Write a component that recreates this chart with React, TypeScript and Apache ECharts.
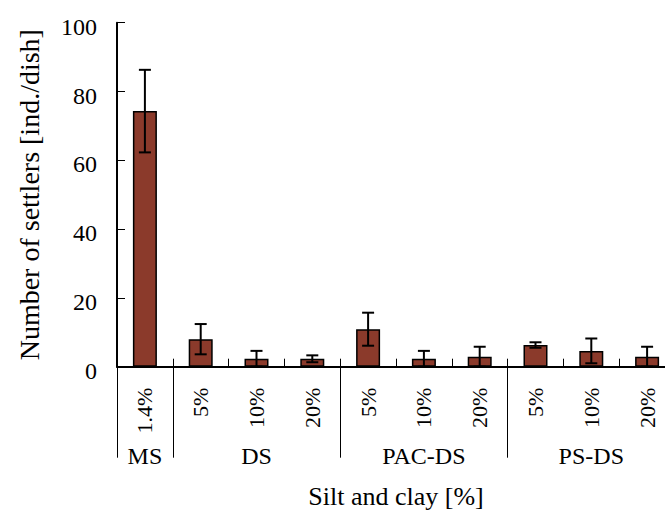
import React, { useEffect, useRef } from "react";
import * as echarts from "echarts";

const doseLabels = ["1.4%", "5%", "10%", "20%", "5%", "10%", "20%", "5%", "10%", "20%"];
const groupNames = ["MS", "DS", "PAC-DS", "PS-DS"];
const groupSizes = [1, 3, 3, 3];
const means = [74.3, 8.0, 2.3, 2.3, 10.9, 2.3, 2.9, 6.3, 4.6, 2.9];
const errors = [12.0, 4.4, 2.3, 1.0, 4.8, 2.3, 2.9, 0.8, 3.6, 2.9];
const yTicks = [0, 20, 40, 60, 80, 100];

const FONT = "Times New Roman, serif";

export default function App() {
  const ref = useRef<HTMLDivElement>(null);
  useEffect(() => {
    if (!ref.current) return;
    const chart = echarts.init(ref.current, undefined, { renderer: "svg" });

    const bounds: number[] = [0];
    const centers: number[] = [];
    let acc = 0;
    groupSizes.forEach((s) => {
      centers.push(acc + s / 2);
      acc += s;
      bounds.push(acc);
    });

    const total = doseLabels.length;

    chart.setOption({
      animation: false,
      backgroundColor: "#fff",
      textStyle: { fontFamily: FONT },
      grid: {
        left: 117,
        right: -10,
        top: 22.7,
        bottom: 146.3,
        containLabel: false,
        outerBoundsMode: "none",
      },
      xAxis: [
        {
          type: "category",
          data: doseLabels,
          position: "bottom",
          boundaryGap: true,
          axisLine: { show: true, lineStyle: { color: "#000", width: 2 } },
          axisTick: { show: true, inside: true, length: 8, interval: 0, lineStyle: { color: "#000", width: 1 } },
          axisLabel: {
            interval: 0,
            rotate: 90,
            margin: 21,
            color: "#000",
            fontFamily: FONT,
            fontSize: 22,
          },
          splitLine: { show: false },
          name: "Silt and clay [%]",
          nameLocation: "middle",
          nameGap: 117,
          nameTextStyle: { color: "#000", fontFamily: FONT, fontSize: 26, lineHeight: 26 },
        },
        {
          type: "value",
          min: 0,
          max: total,
          position: "bottom",
          axisLine: { show: false },
          splitLine: { show: false },
          axisTick: {
            show: true,
            inside: false,
            length: 91,
            customValues: bounds,
            lineStyle: { color: "#000", width: 1 },
          },
          axisLabel: {
            show: true,
            customValues: centers,
            margin: 77,
            color: "#000",
            fontFamily: FONT,
            fontSize: 24,
            formatter: (v: number) => {
              const i = centers.findIndex((c) => Math.abs(c - v) < 1e-6);
              return i >= 0 ? groupNames[i] : "";
            },
          },
        },
      ],
      yAxis: {
        type: "value",
        min: yTicks[0],
        max: yTicks[yTicks.length - 1],
        interval: 20,
        axisLine: { show: true, lineStyle: { color: "#000", width: 2 } },
        axisTick: { show: true, inside: true, length: 8, lineStyle: { color: "#000", width: 1 } },
        axisLabel: {
          margin: 20,
          color: "#000",
          fontFamily: FONT,
          fontSize: 24,
          verticalAlign: "top",
          padding: [-8, 0, 0, 0],
        },
        splitLine: { show: false },
        name: "Number of settlers [ind./dish]",
        nameLocation: "middle",
        nameGap: 74,
        nameTextStyle: { color: "#000", fontFamily: FONT, fontSize: 28 },
      },
      series: [
        {
          type: "bar",
          xAxisIndex: 0,
          data: means,
          barWidth: 24,
          itemStyle: { color: "#8B3A2B", borderColor: "#000", borderWidth: 1.5 },
          z: 2,
        },
        {
          type: "custom",
          xAxisIndex: 0,
          z: 3,
          data: means.map((m, i) => [i, m, errors[i]]),
          renderItem: (params: any, api: any) => {
            const x = api.value(0);
            const v = api.value(1);
            const e = api.value(2);
            const top = api.coord([x, v + e]);
            const bot = api.coord([x, Math.max(v - e, 0)]);
            const hw = 6;
            const style = { stroke: "#000", lineWidth: 2 };
            return {
              type: "group",
              children: [
                { type: "line", shape: { x1: top[0], y1: top[1], x2: bot[0], y2: bot[1] }, style },
                { type: "line", shape: { x1: top[0] - hw, y1: top[1], x2: top[0] + hw, y2: top[1] }, style },
                { type: "line", shape: { x1: bot[0] - hw, y1: bot[1], x2: bot[0] + hw, y2: bot[1] }, style },
              ],
            };
          },
        },
      ],
    });
    return () => chart.dispose();
  }, []);
  return (
    <div
      ref={ref}
      style={{ position: "fixed", left: 0, top: 0, width: 665, height: 513, background: "#fff" }}
    />
  );
}
